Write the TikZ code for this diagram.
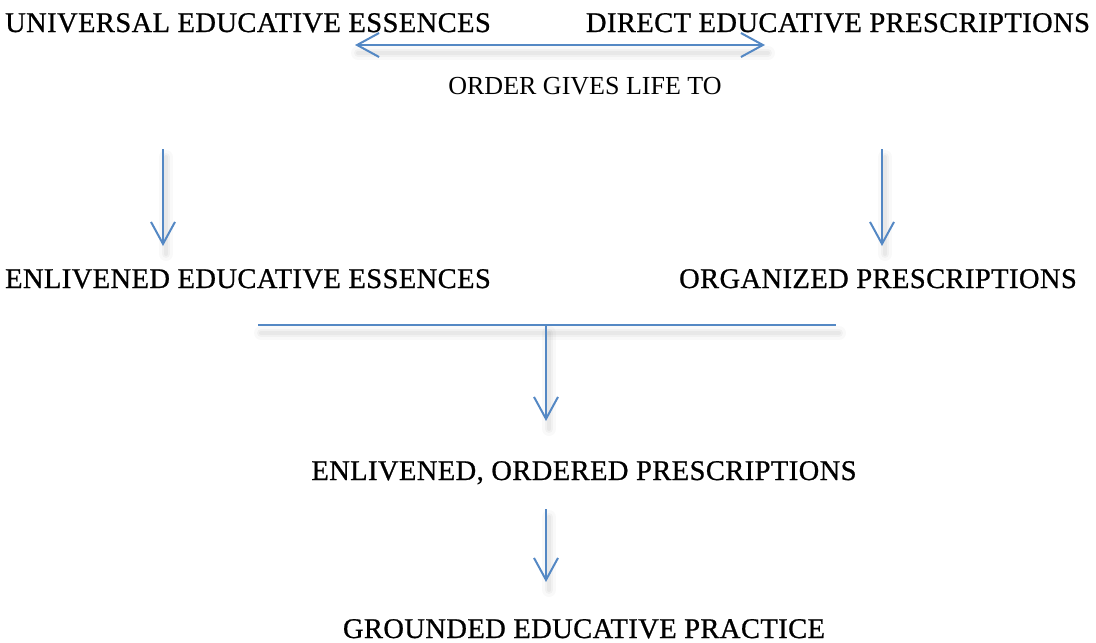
\documentclass[tikz,border=0pt]{standalone}
\usepackage{fontspec}
\setmainfont{Liberation Serif}
\newfontfamily\headfont[LetterSpace=1.5,FakeBold=0.8]{Liberation Serif}
\usetikzlibrary{arrows.meta}
\definecolor{arrowblue}{RGB}{84,136,196}
\tikzset{
  head/.style={font=\headfont\fontsize{28.5}{30}\selectfont, anchor=base, inner sep=0pt},
  sub/.style={font=\fontsize{26}{28}\selectfont, anchor=base, inner sep=0pt},
  conn/.style={draw=arrowblue, line width=2pt},
  tip/.style={-{Straight Barb[length=22pt,width=24pt,line width=2pt]}},
  dtip/.style={{Straight Barb[length=22pt,width=24pt,line width=2pt]}-{Straight Barb[length=22pt,width=24pt,line width=2pt]}},
  shadowA/.style={draw=black, draw opacity=0.025, line width=14pt, line cap=round},
  shadowB/.style={draw=black, draw opacity=0.03, line width=8pt, line cap=round},
  shadowC/.style={draw=black, draw opacity=0.035, line width=4pt, line cap=round},
  sh/.style={xshift=3pt, yshift=-8pt},
}
\begin{document}
\begin{tikzpicture}[x=1pt,y=-1pt]
\useasboundingbox (0,0) rectangle (1096,643);
% texts
\node[head] (ue) at (248,32) {UNIVERSAL EDUCATIVE ESSENCES};
\node[head] (dp) at (838,32) {DIRECT EDUCATIVE PRESCRIPTIONS};
\node[sub]  (og) at (585,94) {ORDER GIVES LIFE TO};
\node[head] (ee) at (248,288) {ENLIVENED EDUCATIVE ESSENCES};
\node[head] (op) at (878,288) {ORGANIZED PRESCRIPTIONS};
\node[head] (eo) at (584,480) {ENLIVENED, ORDERED PRESCRIPTIONS};
\node[head] (gp) at (584,638) {GROUNDED EDUCATIVE PRACTICE};
% connector end points
\coordinate (dl) at (355,45);
\coordinate (dr) at (765,45);
\coordinate (l1) at (163,149);
\coordinate (l2) at (163,246);
\coordinate (r1) at (882,149);
\coordinate (r2) at (882,246);
\coordinate (hl) at (258,325);
\coordinate (hr) at (836,325);
\coordinate (hm) at (546,325);
\coordinate (m2) at (546,421);
\coordinate (b1) at (546,509);
\coordinate (b2) at (546,582);
% soft shadows
\foreach \s in {shadowA,shadowB,shadowC}{
  \draw[\s] ([sh]dl) -- ([sh]dr);
  \draw[\s] ([sh]l1) -- ([sh]l2);
  \draw[\s] ([sh]r1) -- ([sh]r2);
  \draw[\s] ([sh]hl) -- ([sh]hr);
  \draw[\s] ([sh]hm) -- ([sh]m2);
  \draw[\s] ([sh]b1) -- ([sh]b2);
}
% connectors
\draw[conn,dtip] (dl) -- (dr);
\draw[conn,tip] (l1) -- (l2);
\draw[conn,tip] (r1) -- (r2);
\draw[conn] (hl) -- (hr);
\draw[conn,tip] (hm) -- (m2);
\draw[conn,tip] (b1) -- (b2);
\end{tikzpicture}
\end{document}
